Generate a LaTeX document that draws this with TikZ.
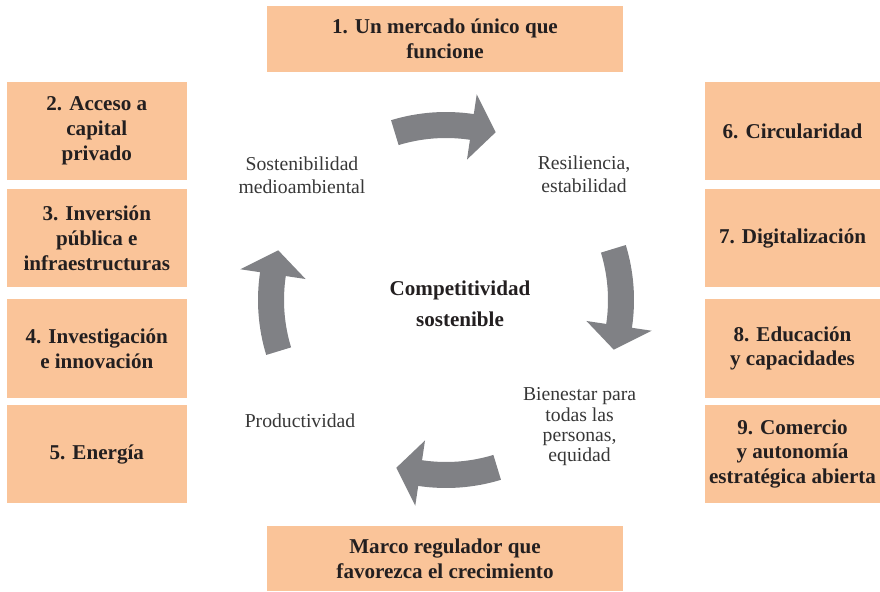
\documentclass[tikz,border=0pt]{standalone}
\usepackage{fontspec}
\setmainfont{Liberation Serif}
\definecolor{salmon}{RGB}{250,196,153}
\definecolor{gris}{RGB}{128,129,133}
\definecolor{tinta}{RGB}{35,31,32}
\definecolor{texto}{RGB}{55,55,55}
\tikzset{
	caja/.style={fill=salmon, draw=none, align=center, text=tinta, inner sep=0pt,
		font=\fontsize{15}{17.7}\selectfont\bfseries},
	ladoizq/.style={caja, minimum width=4.5cm, minimum height=2.45cm},
	ladoder/.style={caja, minimum width=4.375cm, minimum height=2.45cm},
	etiqueta/.style={align=center, text=texto, inner sep=0pt,
		font=\fontsize{14}{16.3}\selectfont},
	flecha/.style={fill=gris, draw=none}
}
\begin{document}
\begin{tikzpicture}
	\useasboundingbox (0,0) rectangle (22,14.775);
	\coordinate (centro) at (11.15, 7.275);

	% Cajas arriba y abajo
	\node[caja, minimum width=8.9cm, minimum height=1.65cm] (mercado) at (11.125, 13.8)
		{1. Un mercado único que\\funcione};
	\node[caja, minimum width=8.9cm, minimum height=1.625cm] (marco) at (11.125, 0.8125)
		{Marco regulador que\\favorezca el crecimiento};

	% Cajas izquierda
	\node[ladoizq] (capital) at (2.42, 11.5) {2. Acceso a\\capital\\privado};
	\node[ladoizq] (inversion) at (2.42, 8.8125) {3. Inversión\\pública e\\infraestructuras};
	\node[ladoizq] (investigacion) at (2.42, 6.0625) {4. Investigación\\e innovación};
	\node[ladoizq] (energia) at (2.42, 3.425) {5. Energía};

	% Cajas derecha
	\node[ladoder] (circular) at (19.8125, 11.5) {6. Circularidad};
	\node[ladoder] (digital) at (19.8125, 8.8125) {7. Digitalización};
	\node[ladoder] (educacion) at (19.8125, 6.0625) {8. Educación\\y capacidades};
	\node[ladoder] (comercio) at (19.8125, 3.425) {9. Comercio\\y autonomía\\estratégica abierta};

	% Ciclo
	\foreach \a in {90,0,-90,180} {
		\pgfmathsetmacro{\cola}{\a+17}
		\pgfmathsetmacro{\base}{\a-8.5}
		\pgfmathsetmacro{\punta}{\a-16.5}
		\fill[flecha] ([shift={(centro)}]\cola:4.7)
			arc[start angle=\cola, end angle=\base, radius=4.7]
			-- ([shift={(centro)}]\base:5.2)
			-- ([shift={(centro)}]\punta:4.375)
			-- ([shift={(centro)}]\base:3.55)
			-- ([shift={(centro)}]\base:4.05)
			arc[start angle=\base, end angle=\cola, radius=4.05]
			-- cycle;
	}

	% Etiquetas
	\node[etiqueta] (sostenibilidad) at (7.55, 10.4) {Sostenibilidad\\medioambiental};
	\node[etiqueta] (resiliencia) at (14.6, 10.425) {Resiliencia,\\estabilidad};
	\node[etiqueta, font=\fontsize{14}{14.5}\selectfont] (bienestar) at (14.49, 4.1)
		{Bienestar para\\todas las\\personas,\\equidad};
	\node[etiqueta] (productividad) at (7.5, 4.25) {Productividad};
	\node[align=center, text=tinta, inner sep=0pt,
		font=\fontsize{15}{22}\selectfont\bfseries] (competitividad) at (11.5, 7.19)
		{Competitividad\\sostenible};
\end{tikzpicture}
\end{document}
